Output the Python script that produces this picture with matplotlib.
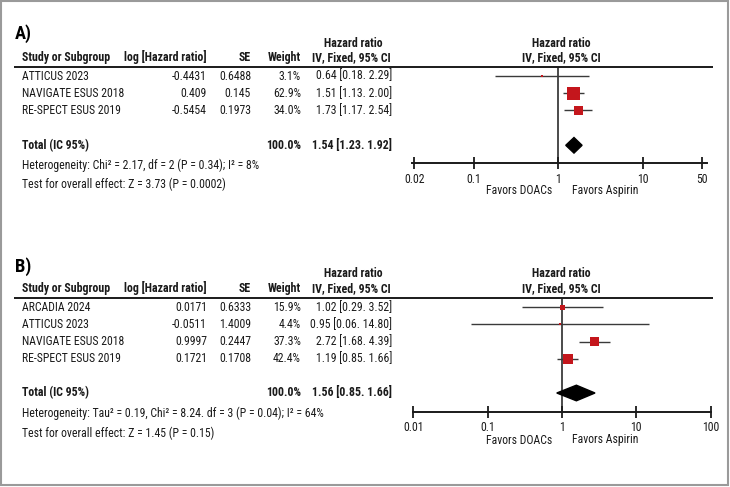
import matplotlib
matplotlib.use("Agg")
import matplotlib.pyplot as plt
from matplotlib import font_manager
from matplotlib.patches import Rectangle, Polygon
from matplotlib.ticker import NullLocator, FixedLocator, FixedFormatter
import numpy as np

# ---------------- data ----------------
# Panel A
a_studies = ["ATTICUS 2023", "NAVIGATE ESUS 2018", "RE-SPECT ESUS 2019"]
a_loghr = ["-0.4431", "0.409", "-0.5454"]
a_se = ["0.6488", "0.145", "0.1973"]
a_weight = [3.1, 62.9, 34.0]
a_hr = [0.64, 1.51, 1.73]
a_lo = [0.18, 1.13, 1.17]
a_hi = [2.29, 2.00, 2.54]
a_ci_text = ["0.64 [0.18. 2.29]", "1.51 [1.13. 2.00]", "1.73 [1.17. 2.54]"]
a_total = (1.23, 1.54, 1.92)
a_total_text = "1.54 [1.23. 1.92]"
a_het = "Heterogeneity: Chi\u00b2 = 2.17, df = 2 (P = 0.34); I\u00b2 = 8%"
a_test = "Test for overall effect: Z = 3.73 (P = 0.0002)"
a_ticks = [0.02, 0.1, 1, 10, 50]
a_ticklabels = ["0.02", "0.1", "1", "10", "50"]

# Panel B
b_studies = ["ARCADIA 2024", "ATTICUS 2023", "NAVIGATE ESUS 2018", "RE-SPECT ESUS 2019"]
b_loghr = ["0.0171", "-0.0511", "0.9997", "0.1721"]
b_se = ["0.6333", "1.4009", "0.2447", "0.1708"]
b_weight = [15.9, 4.4, 37.3, 42.4]
b_hr = [1.02, 0.95, 2.72, 1.19]
b_lo = [0.29, 0.06, 1.68, 0.85]
b_hi = [3.52, 14.80, 4.39, 1.66]
b_ci_text = ["1.02 [0.29. 3.52]", "0.95 [0.06. 14.80]", "2.72 [1.68. 4.39]", "1.19 [0.85. 1.66]"]
b_total = (0.85, 1.56, 2.78)   # diamond as drawn
b_total_text = "1.56 [0.85. 1.66]"
b_het = "Heterogeneity: Tau\u00b2 = 0.19, Chi\u00b2 = 8.24. df = 3 (P = 0.04); I\u00b2 = 64%"
b_test = "Test for overall effect: Z = 1.45 (P = 0.15)"
b_ticks = [0.01, 0.1, 1, 10, 100]
b_ticklabels = ["0.01", "0.1", "1", "10", "100"]

# ---------------- font ----------------
names = {f.name for f in font_manager.fontManager.ttflist}
family = "DejaVu Sans"
for cand in ["Liberation Sans Narrow", "Roboto Condensed", "Open Sans Condensed", "Liberation Sans"]:
    if cand in names:
        family = cand
        break
plt.rcParams["font.family"] = [family, "DejaVu Sans"]
TXT = "#1a1a1a"
RED = "#c4161c"

W, H = 730, 487
fig = plt.figure(figsize=(W / 100, H / 100), dpi=100)
ov = fig.add_axes([0, 0, 1, 1])
ov.set_xlim(0, W)
ov.set_ylim(H, 0)
ov.axis("off")
renderer = fig.canvas.get_renderer()


def fit_size(s, target_px, weight="normal", base=10.0):
    t = ov.text(0, 0, s, fontsize=base, fontweight=weight)
    w = t.get_window_extent(renderer=renderer).width
    t.remove()
    return base * target_px / w


FS = fit_size("NAVIGATE ESUS 2018", 102)
FSB = fit_size("Study or Subgroup", 88, "bold")
FSL = fit_size("A)", 17, "bold")

ov.add_patch(Rectangle((0.75, 0.75), W - 2.5, H - 2.5, fill=False, ec="#9a9a9a", lw=1.5))


def panel(label, y_label, y_hr, y_head, y_line, y_row0, dy, y_total, y_het, y_test,
          studies, loghr, se, weight, hr, lo, hi, ci_text, total, total_text, het, test,
          ticks, ticklabels, xlim, fx0, fx1, y_axis, y_favors):
    ov.text(15, y_label, label, fontsize=FSL, fontweight="bold", va="center", ha="left", color="black")
    # table headers
    ov.text(353, y_hr, "Hazard ratio", fontsize=FSB, fontweight="bold", ha="center", va="center", color=TXT)
    ov.text(22, y_head, "Study or Subgroup", fontsize=FSB, fontweight="bold", ha="left", va="center", color=TXT)
    ov.text(207, y_head, "log [Hazard ratio]", fontsize=FSB, fontweight="bold", ha="right", va="center", color=TXT)
    ov.text(251, y_head, "SE", fontsize=FSB, fontweight="bold", ha="right", va="center", color=TXT)
    ov.text(301, y_head, "Weight", fontsize=FSB, fontweight="bold", ha="right", va="center", color=TXT)
    ov.text(351, y_head, "IV, Fixed, 95% CI", fontsize=FSB, fontweight="bold", ha="center", va="center", color=TXT)
    ov.text(561, y_hr, "Hazard ratio", fontsize=FSB, fontweight="bold", ha="center", va="center", color=TXT)
    ov.text(561, y_head, "IV, Fixed, 95% CI", fontsize=FSB, fontweight="bold", ha="center", va="center", color=TXT)
    ov.plot([14, 713], [y_line, y_line], color="#1a1a1a", lw=1.4, solid_capstyle="butt")
    rows_y = [y_row0 + i * dy for i in range(len(studies))]
    for yy, s, l, e, w, c in zip(rows_y, studies, loghr, se, weight, ci_text):
        ov.text(22, yy, s, fontsize=FS, ha="left", va="center", color=TXT)
        ov.text(207, yy, l, fontsize=FS, ha="right", va="center", color=TXT)
        ov.text(251, yy, e, fontsize=FS, ha="right", va="center", color=TXT)
        ov.text(301, yy, f"{w:.1f}%", fontsize=FS, ha="right", va="center", color=TXT)
        ov.text(392, yy, c, fontsize=FS, ha="right", va="center", color=TXT)
    ov.text(22, y_total, "Total (IC 95%)", fontsize=FSB, fontweight="bold", ha="left", va="center", color=TXT)
    ov.text(301, y_total, f"{sum(weight):.1f}%", fontsize=FSB, fontweight="bold", ha="right", va="center", color=TXT)
    ov.text(392, y_total, total_text, fontsize=FSB, fontweight="bold", ha="right", va="center", color=TXT)
    ov.text(22, y_het, het, fontsize=FS, ha="left", va="center", color=TXT)
    ov.text(22, y_test, test, fontsize=FS, ha="left", va="center", color=TXT)

    # forest axes (pixel y coordinates inside)
    ax = fig.add_axes([fx0 / W, 1 - y_axis / H, (fx1 - fx0) / W, (y_axis - y_line) / H])
    ax.set_xscale("log")
    ax.set_xlim(*xlim)
    ax.set_ylim(y_axis, y_line)
    ax.patch.set_alpha(0)
    for sp in ["top", "left", "right"]:
        ax.spines[sp].set_visible(False)
    ax.spines["bottom"].set_linewidth(1.4)
    ax.spines["bottom"].set_color("#1a1a1a")
    ax.set_yticks([])
    ax.xaxis.set_major_locator(FixedLocator(ticks))
    ax.xaxis.set_major_formatter(FixedFormatter(ticklabels))
    ax.xaxis.set_minor_locator(NullLocator())
    ax.tick_params(axis="x", direction="inout", length=8, width=1.3, color="#1a1a1a",
                   labelsize=FS, labelcolor=TXT, pad=3)
    ax.axvline(1, color="#1a1a1a", lw=1.1)
    for yy, h, l, u, w in zip(rows_y, hr, lo, hi, weight):
        ax.plot([l, u], [yy, yy], color="#3a3a3a", lw=1.0, solid_capstyle="butt", zorder=2)
        side_px = 0.73 * w ** 0.7
        side_pt = side_px * 72 / 100
        ax.scatter([h], [yy], marker="s", s=side_pt ** 2, color=RED, edgecolors="none", zorder=3)
    lo_t, mid_t, hi_t = total
    half = 7.8
    ax.add_patch(Polygon([[lo_t, y_total], [mid_t, y_total - half], [hi_t, y_total], [mid_t, y_total + half]],
                         closed=True, color="black", zorder=3))
    ov.text(519, y_favors, "Favors DOACs", fontsize=FS, ha="center", va="center", color=TXT)
    ov.text(605, y_favors, "Favors Aspirin", fontsize=FS, ha="center", va="center", color=TXT)


panel("A)", 34, 43.3, 57.3, 66.8, 76, 17.2, 145.3, 165, 184.3,
      a_studies, a_loghr, a_se, a_weight, a_hr, a_lo, a_hi, a_ci_text, a_total, a_total_text, a_het, a_test,
      a_ticks, a_ticklabels, (0.0186, 57.0), 411.7, 706.7, 163.3, 190.7)

panel("B)", 267, 273.3, 288.3, 297.7, 307.3, 17.1, 393.0, 413.3, 433.3,
      b_studies, b_loghr, b_se, b_weight, b_hr, b_lo, b_hi, b_ci_text, b_total, b_total_text, b_het, b_test,
      b_ticks, b_ticklabels, (0.00985, 101.5), 412.8, 711.2, 411.7, 440)

fig.savefig("out.png", dpi=100)
